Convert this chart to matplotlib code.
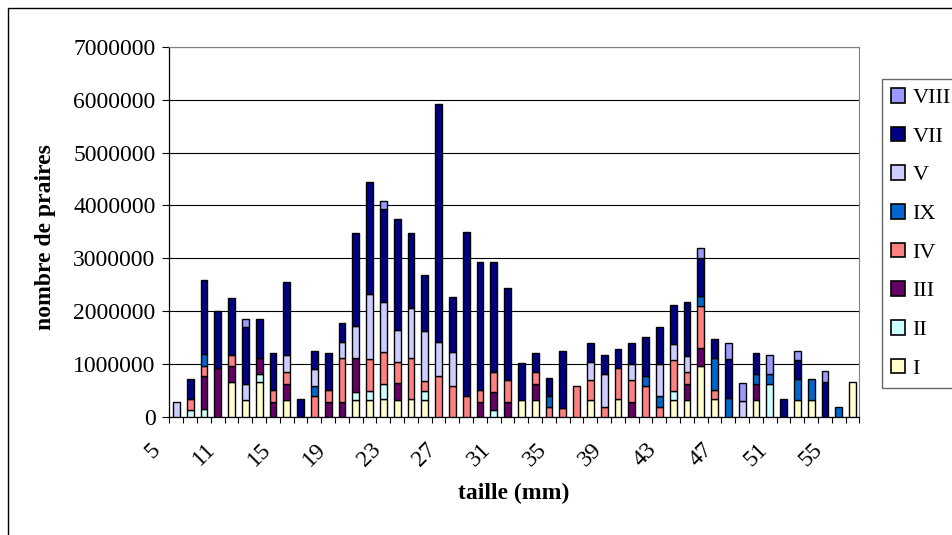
import matplotlib
matplotlib.use("Agg")
import matplotlib.pyplot as plt
import numpy as np
from matplotlib.patches import Patch, Rectangle
from matplotlib.transforms import ScaledTranslation

plt.rcParams['font.family'] = ['Liberation Serif', 'DejaVu Serif']
plt.rcParams['font.size'] = 17

# tailles (mm) des classes de longueur
tailles = [5, 8, 9, 10, 11, 12, 13, 14, 15, 16,
           17, 18, 19, 20, 21, 22, 23, 24, 25, 26,
           27, 28, 29, 30, 31, 32, 33, 34, 35, 36,
           37, 38, 39, 40, 41, 42, 43, 44, 45, 46,
           47, 48, 49, 50, 51, 52, 53, 54, 55, 56]

# nombre de praires par secteur, en milliers
secteur_I = [0, 0, 0, 0, 660, 320, 660, 0, 320, 0,
             0, 0, 0, 320, 320, 330, 320, 330, 320, 0,
             0, 0, 0, 0, 0, 310, 310, 0, 0, 0,
             310, 0, 330, 0, 0, 0, 320, 320, 960, 330,
             0, 0, 320, 0, 0, 320, 320, 0, 0, 660]
secteur_II = [0, 120, 140, 0, 0, 0, 150, 0, 0, 0,
              0, 0, 0, 140, 160, 290, 0, 0, 160, 0,
              0, 0, 0, 130, 0, 0, 0, 0, 0, 0,
              0, 0, 0, 0, 0, 0, 160, 0, 0, 0,
              0, 0, 0, 620, 0, 0, 0, 0, 0, 0]
secteur_III = [0, 0, 630, 930, 300, 0, 310, 280, 300, 0,
               0, 280, 280, 660, 0, 0, 320, 0, 0, 0,
               0, 0, 280, 330, 280, 0, 300, 0, 0, 0,
               0, 0, 0, 280, 0, 0, 0, 300, 350, 0,
               0, 0, 300, 0, 0, 0, 0, 0, 0, 0]
secteur_IV = [0, 220, 190, 0, 200, 0, 0, 220, 230, 0,
              390, 220, 840, 0, 610, 610, 400, 790, 190, 780,
              590, 390, 220, 390, 420, 0, 240, 180, 160, 590,
              390, 180, 590, 420, 590, 180, 600, 220, 790, 180,
              0, 0, 0, 0, 0, 0, 0, 0, 0, 0]
secteur_IX = [0, 0, 230, 0, 0, 0, 0, 0, 0, 0,
              190, 0, 0, 0, 0, 0, 0, 0, 0, 0,
              0, 0, 0, 0, 0, 0, 0, 220, 0, 0,
              0, 0, 0, 0, 180, 220, 0, 0, 190, 600,
              360, 0, 190, 190, 0, 400, 400, 0, 180, 0]
secteur_V = [280, 0, 0, 0, 0, 300, 0, 0, 310, 0,
             320, 0, 300, 600, 1240, 950, 610, 930, 950, 640,
             640, 0, 0, 0, 0, 0, 0, 0, 0, 0,
             330, 630, 0, 290, 0, 590, 300, 310, 0, 0,
             0, 300, 0, 0, 0, 0, 0, 0, 0, 0]
secteur_VII = [0, 380, 1390, 1080, 1080, 1070, 730, 710, 1390, 340,
               350, 710, 360, 1760, 2110, 1750, 2100, 1420, 1070, 4510,
               1030, 3100, 2430, 2080, 1740, 710, 360, 340, 1080, 0,
               360, 350, 360, 410, 730, 700, 740, 1030, 720, 370,
               730, 0, 400, 0, 330, 350, 0, 660, 0, 0]
secteur_VIII = [0, 0, 0, 0, 0, 160, 0, 0, 0, 0,
                0, 0, 0, 0, 0, 160, 0, 0, 0, 0,
                0, 0, 0, 0, 0, 0, 0, 0, 0, 0,
                0, 0, 0, 0, 0, 0, 0, 0, 180, 0,
                300, 340, 0, 350, 0, 180, 0, 200, 0, 0]

noms = ['I', 'II', 'III', 'IV', 'IX', 'V', 'VII', 'VIII']
series = [secteur_I, secteur_II, secteur_III, secteur_IV,
          secteur_IX, secteur_V, secteur_VII, secteur_VIII]
couleurs = ['#FFFFCC', '#CCFFFF', '#660066', '#FF8080',
            '#0066CC', '#CCCCFF', '#000080', '#9999FF']

fig = plt.figure(figsize=(9.53, 5.35), dpi=100)
ax = fig.add_axes([169.5 / 953, 1 - 416.7 / 535, 690 / 953, 369.7 / 535])

x = np.arange(len(tailles))
bas = np.zeros(len(x))
for nom, vals, col in zip(noms, series, couleurs):
    v = np.array(vals, dtype=float) * 1000
    m = v > 0
    ax.bar(x[m], v[m], width=0.5, bottom=bas[m], color=col,
           edgecolor='black', linewidth=1.0, zorder=3)
    bas += v

ax.set_xlim(-0.5, len(x) - 0.5)
ax.set_ylim(0, 7000000)
yt = np.arange(0, 7000001, 1000000)
ax.set_yticks(yt)
ax.set_yticklabels([str(int(t)) for t in yt])
ax.yaxis.grid(True, color='black', linewidth=0.8)
ax.set_axisbelow(True)
ax.tick_params(axis='y', direction='out', length=5, width=0.8, pad=5)

# graduations entre les classes, etiquettes toutes les 4 classes
ax.set_xticks(np.arange(-0.5, len(x), 1))
ax.set_xticklabels([])
ax.tick_params(axis='x', which='major', direction='out', length=4.5, width=0.8)
ax.set_xticks(x[::4], minor=True)
ax.set_xticklabels([str(t) for t in tailles[::4]], minor=True,
                   rotation=45, ha='right', va='top')
ax.tick_params(axis='x', which='minor', length=0, pad=16)
decal = ScaledTranslation(-12 / 100, 0, fig.dpi_scale_trans)
for lab in ax.get_xticklabels(minor=True):
    lab.set_transform(lab.get_transform() + decal)

for s in ['top', 'right']:
    ax.spines[s].set_color('#808080')
for s in ['left', 'bottom']:
    ax.spines[s].set_color('black')
    ax.spines[s].set_linewidth(0.9)

fig.text(46 / 953, 1 - 237 / 535, 'nombre de praires', rotation=90,
         ha='center', va='center', weight='bold')
fig.text(514 / 953, 1 - 493 / 535, 'taille (mm)', ha='center',
         va='center', weight='bold')

poignees = [Patch(facecolor=c, edgecolor='black', linewidth=1.2)
            for c in couleurs[::-1]]
leg = fig.legend(poignees, noms[::-1], loc='upper left',
                 bbox_to_anchor=(882 / 953, 1 - 79 / 535), frameon=True,
                 fancybox=False, edgecolor='#404040', borderaxespad=0,
                 fontsize=16, borderpad=0.4, labelspacing=0.83,
                 handlelength=0.65, handleheight=0.65, handletextpad=0.32)
leg.get_frame().set_linewidth(1.0)

fig.patches.append(Rectangle((8 / 953, -0.1), 1.0, 1.1 - 8 / 535,
                             transform=fig.transFigure, fill=False,
                             edgecolor='black', linewidth=1.0))

fig.savefig('out.png', dpi=100)
